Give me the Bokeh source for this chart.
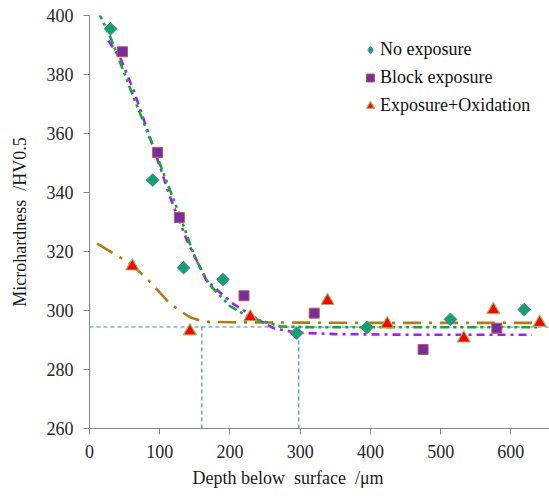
import numpy as np
from bokeh.plotting import figure
from bokeh.models import Range1d, Legend, LegendItem, FixedTicker, Title
from bokeh.embed import file_html
from bokeh.resources import INLINE

# --- data ---
no_exp_x = [30, 90, 134, 190, 295, 395, 514, 619]
no_exp_y = [395.5, 344.2, 314.5, 310.5, 292.3, 294.3, 297.0, 300.3]

block_x = [47, 97, 128, 220, 320, 475, 580]
block_y = [387.7, 353.6, 331.5, 305.0, 299.1, 286.8, 294.0]

oxid_x = [61, 143, 229, 339, 424, 533, 575, 641]
oxid_y = [315.0, 293.0, 297.8, 303.3, 295.4, 290.6, 300.2, 295.9]

# fitted trend curves
fit_no_x = [12, 30, 60, 94, 132, 150, 170, 200, 229, 272, 320, 400, 500, 640]
fit_no_y = [401.5, 392.5, 374.0, 353.6, 330.0, 318.0, 309.0, 301.5, 297.6, 294.6, 294.3, 294.3, 294.3, 294.3]

fit_block_x = [27, 45, 63, 91, 115, 139, 167, 205, 243, 262, 295, 350, 450, 550, 630]
fit_block_y = [391.5, 385.0, 374.5, 355.3, 338.3, 323.6, 310.0, 302.2, 296.5, 294.0, 292.5, 292.0, 291.8, 291.8, 291.8]

fit_oxid_x = [11, 40, 62, 87, 110, 125, 144, 163, 200, 300, 400, 500, 640]
fit_oxid_y = [322.7, 318.5, 315.2, 309.5, 303.5, 300.5, 297.6, 296.2, 296.0, 295.9, 295.8, 295.8, 295.8]

# reference (guide) lines
ref_level = 294.4
ref_depths = [160, 298]

x_ticks = [0, 100, 200, 300, 400, 500, 600]
y_ticks = [260, 280, 300, 320, 340, 360, 380, 400]

series_names = ["No exposure", "Block exposure", "Exposure+Oxidation"]
x_title = "Depth below\u00a0 surface\u00a0 /μm"
y_title = "Microhardness\u00a0 /HV0.5"

FONT = "Liberation Serif"

p = figure(width=549, height=503, output_backend="svg", toolbar_location=None,
           x_range=Range1d(0, 655), y_range=Range1d(260, 400),
           min_border_left=89, min_border_right=0, min_border_top=15, min_border_bottom=75)
p.outline_line_color = None
p.xgrid.visible = False
p.ygrid.visible = False
p.background_fill_color = "white"
p.border_fill_color = "white"

for ax in (p.xaxis[0], p.yaxis[0]):
    ax.axis_line_color = "#868686"
    ax.major_tick_line_color = "#868686"
    ax.minor_tick_line_color = None
    ax.major_tick_in = 0
    ax.major_tick_out = 6
    ax.major_label_text_font = FONT
    ax.major_label_text_font_size = "18px"
    ax.major_label_text_color = "#262626"
    ax.axis_label_text_font = FONT
    ax.axis_label_text_font_style = "normal"
    ax.axis_label_text_font_size = "18px"
    ax.axis_label_text_color = "#1a1a1a"

p.xaxis.ticker = FixedTicker(ticks=x_ticks)
p.yaxis.ticker = FixedTicker(ticks=y_ticks)
p.xaxis.major_label_standoff = 10
p.yaxis.major_label_standoff = 10
p.yaxis.axis_label = y_title
p.yaxis.axis_label_standoff = 14

# x-axis title (placed left of centre, as in the reference)
xt = Title(text=x_title, align="left", offset=103, text_font=FONT, text_font_size="18px",
           text_font_style="normal", text_color="#1a1a1a", standoff=14,
           vertical_align="top", text_line_height=1.6)
p.add_layout(xt, "below")

# guide lines
p.line([0, 655], [ref_level, ref_level], line_color="#4A86C8", line_width=1.2, line_dash="4 3")
for d in ref_depths:
    p.line([d, d], [260, ref_level], line_color="#4A86C8", line_width=1.2, line_dash="4 3")

# trend curves
p.line(fit_oxid_x, fit_oxid_y, line_color="#B07D10", line_width=2.6, line_dash="18 8 3 8")
p.line(fit_block_x, fit_block_y, line_color="#A020F0", line_width=2.6, line_dash="8 5 3 5")
p.line(fit_no_x, fit_no_y, line_color="#12A83A", line_width=2.6, line_dash="9 4 3 4 3 4")

# legend swatch for the diamond series: zero-size markers hidden beneath the real ones
r1_leg = p.scatter(no_exp_x, no_exp_y, marker="diamond", size=0,
                   fill_color="#12A36A", line_color="#4F81BD", line_width=1)

# markers
r1 = p.scatter(no_exp_x, no_exp_y, marker="square", angle=np.pi / 4, size=9,
               fill_color="#12A36A", line_color="#4F81BD", line_width=1)
r2 = p.scatter(block_x, block_y, marker="square", size=10,
               fill_color="#7030A0", line_color="#D0504D", line_width=1)
r3 = p.scatter(oxid_x, oxid_y, marker="triangle", size=13,
               fill_color="#FF0000", line_color="#9BBB59", line_width=1.2)

legend = Legend(items=[LegendItem(label=series_names[0], renderers=[r1_leg]),
                       LegendItem(label=series_names[1], renderers=[r2]),
                       LegendItem(label=series_names[2], renderers=[r3])],
                location=(271, 311), orientation="vertical",
                background_fill_alpha=0, border_line_color=None,
                glyph_width=20, glyph_height=23, label_standoff=0, spacing=5,
                label_text_font=FONT, label_text_font_size="18px", label_text_color="#111111",
                padding=0, margin=0)
p.add_layout(legend, "center")

open("out.html", "w").write(file_html(p, INLINE))
